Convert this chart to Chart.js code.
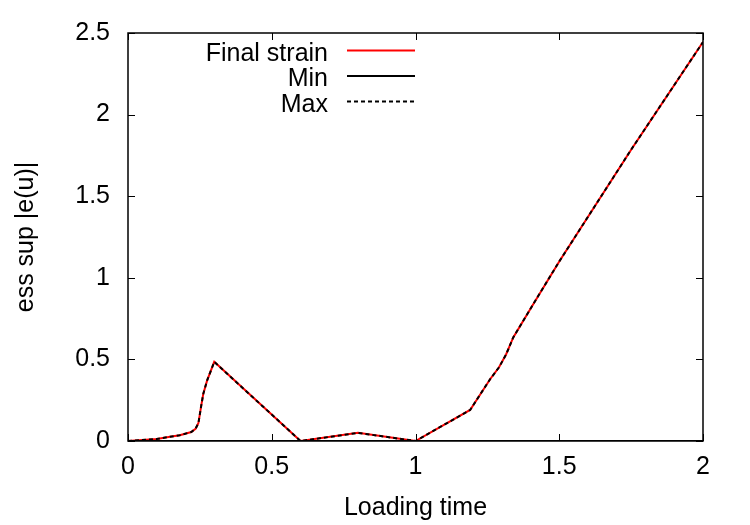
<!DOCTYPE html>
<html>
<head>
<meta charset="utf-8">
<title>ess sup |e(u)| vs loading time</title>
<script src="https://cdn.jsdelivr.net/npm/chart.js@4/dist/chart.umd.min.js"></script>
<style>
  body { margin: 0; background: #fff; }
  #wrap { width: 750px; height: 525px; }
</style>
</head>
<body>
<div id="wrap"><canvas id="strain-chart" width="750" height="525"></canvas></div>
<script>
// Values
const loadingTime = [0, 0.1, 0.146, 0.18, 0.22, 0.235, 0.245, 0.255, 0.262, 0.275, 0.3, 0.6, 0.8, 1.0, 1.19, 1.26, 1.29, 1.315, 1.34, 1.41, 1.5, 1.75, 2.0];
const finalStrain = [0, 0.012, 0.026, 0.035, 0.055, 0.075, 0.11, 0.22, 0.29, 0.37, 0.485, 0, 0.05, 0, 0.19, 0.38, 0.45, 0.53, 0.635, 0.84, 1.1, 1.785, 2.445];
const minStrain   = [0, 0, 0, 0, 0, 0, 0, 0, 0, 0, 0, 0, 0, 0, 0, 0, 0, 0, 0, 0, 0, 0, 0];
const maxStrain   = [0, 0.012, 0.026, 0.035, 0.055, 0.075, 0.11, 0.22, 0.29, 0.37, 0.485, 0, 0.05, 0, 0.19, 0.38, 0.45, 0.53, 0.635, 0.84, 1.1, 1.785, 2.445];
const xTicks = [0, 0.5, 1, 1.5, 2];
const yTicks = [0, 0.5, 1, 1.5, 2, 2.5];

function toPoints(xs, ys) {
  return xs.map((x, i) => ({ x: x, y: ys[i] }));
}

const FONT = '"Liberation Sans", Arial, sans-serif';
Chart.defaults.font.family = FONT;
Chart.defaults.font.size = 25;
Chart.defaults.color = '#000';

// gnuplot style frame with inward ticks on all four sides
const framePlugin = {
  id: 'frame',
  afterDatasetsDraw(chart) {
    const ctx = chart.ctx;
    const area = chart.chartArea;
    const xs = chart.scales.x, ys = chart.scales.y;
    const tick = 7;
    ctx.save();
    ctx.strokeStyle = '#000';
    ctx.lineWidth = 1.5;
    ctx.strokeRect(area.left, area.top, area.right - area.left, area.bottom - area.top);
    ctx.lineWidth = 1;
    ctx.beginPath();
    xTicks.forEach(v => {
      const px = Math.round(xs.getPixelForValue(v)) + 0.5;
      ctx.moveTo(px, area.bottom); ctx.lineTo(px, area.bottom - tick);
      ctx.moveTo(px, area.top); ctx.lineTo(px, area.top + tick);
    });
    yTicks.forEach(v => {
      const py = Math.round(ys.getPixelForValue(v)) + 0.5;
      ctx.moveTo(area.left, py); ctx.lineTo(area.left + tick, py);
      ctx.moveTo(area.right, py); ctx.lineTo(area.right - tick, py);
    });
    ctx.stroke();
    ctx.restore();
  }
};

// legend: label right-aligned, sample line to its right
const keyPlugin = {
  id: 'key',
  afterDraw(chart) {
    const ctx = chart.ctx;
    const textRight = 328, lineStart = 347, lineEnd = 415;
    ctx.save();
    ctx.font = '25px ' + FONT;
    ctx.fillStyle = '#000';
    ctx.textAlign = 'right';
    ctx.textBaseline = 'alphabetic';
    chart.data.datasets.forEach((ds, i) => {
      const y = 50.5 + i * 25.5;
      ctx.fillText(ds.label, textRight, y + 10);
      ctx.strokeStyle = ds.borderColor;
      ctx.lineWidth = ds.borderWidth;
      ctx.setLineDash(ds.borderDash || []);
      ctx.beginPath();
      ctx.moveTo(lineStart, y);
      ctx.lineTo(lineEnd, y);
      ctx.stroke();
    });
    ctx.restore();
  }
};

const ctx = document.getElementById('strain-chart').getContext('2d');
new Chart(ctx, {
  type: 'line',
  data: {
    datasets: [
      {
        label: 'Final strain',
        data: toPoints(loadingTime, finalStrain),
        borderColor: '#ff0000',
        borderWidth: 2,
        order: 2
      },
      {
        label: 'Min',
        data: toPoints(loadingTime, minStrain),
        borderColor: '#000000',
        borderWidth: 2,
        order: 1
      },
      {
        label: 'Max',
        data: toPoints(loadingTime, maxStrain),
        borderColor: '#000000',
        borderWidth: 2,
        borderDash: [4, 3],
        order: 0
      }
    ]
  },
  options: {
    responsive: false,
    animation: false,
    events: [],
    elements: {
      point: { radius: 0 },
      line: { tension: 0, fill: false }
    },
    layout: {
      padding: { left: 0, right: 47, top: 31, bottom: 0 }
    },
    plugins: {
      legend: { display: false },
      tooltip: { enabled: false }
    },
    scales: {
      x: {
        type: 'linear',
        min: 0,
        max: 2,
        afterFit: s => { s.height = 84; },
        afterBuildTicks: s => { s.ticks = xTicks.map(v => ({ value: v })); },
        grid: { display: false, drawTicks: false, tickLength: 0 },
        border: { display: false },
        ticks: { padding: 11, maxRotation: 0, callback: v => String(v) },
        title: { display: true, text: 'Loading time', padding: { top: 0, bottom: 2 } }
      },
      y: {
        type: 'linear',
        min: 0,
        max: 2.5,
        afterFit: s => { s.width = 128; },
        afterBuildTicks: s => { s.ticks = yTicks.map(v => ({ value: v })); },
        grid: { display: false, drawTicks: false, tickLength: 0 },
        border: { display: false },
        ticks: { padding: 18, callback: v => String(v) },
        title: { display: true, text: 'ess sup |e(u)|', padding: { top: 11, bottom: 0 } }
      }
    }
  },
  plugins: [framePlugin, keyPlugin]
});
</script>
</body>
</html>
